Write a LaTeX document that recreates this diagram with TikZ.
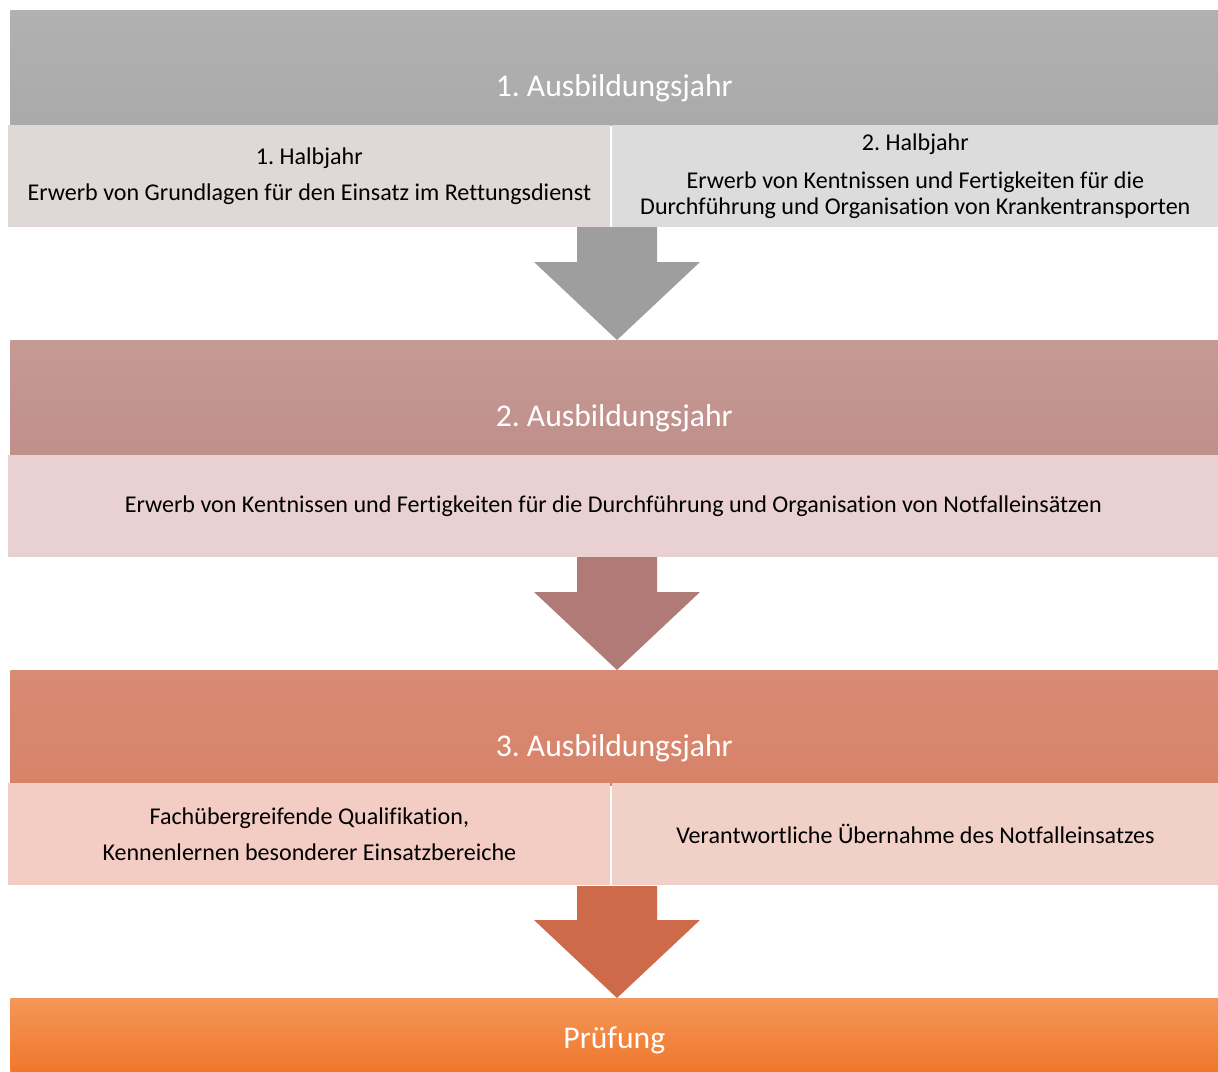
\documentclass[tikz,border=0pt]{standalone}
\usepackage{fontspec}
\setmainfont[Ligatures=CommonOff]{Carlito}
\usetikzlibrary{calc}
\frenchspacing

\definecolor{jahrgrau}{HTML}{AAAAAA}
\definecolor{halbA}{HTML}{E0D7D7}
\definecolor{halbB}{HTML}{DCDCDC}
\definecolor{pfeilgrau}{HTML}{9E9E9E}
\definecolor{jahrrosa}{HTML}{C0908B}
\definecolor{inhaltrosa}{HTML}{E8D1D0}
\definecolor{pfeilrosa}{HTML}{B07A76}
\definecolor{jahrlachs}{HTML}{D7836A}
\definecolor{inhaltA}{HTML}{F3CDC3}
\definecolor{inhaltB}{HTML}{F0D0C7}
\definecolor{pfeillachs}{HTML}{CC6A4A}
\definecolor{pruefung}{HTML}{F07D2E}

% fat arrow from top centre #1 to tip #2
\newcommand{\fatarrow}[3]{%
  \fill[#3] ($(#1)+(-40,0)$) -- ($(#1)+(40,0)$) -- ($(#2)+(40,-78)$) -- ($(#2)+(83,-78)$)
    -- (#2) -- ($(#2)+(-83,-78)$) -- ($(#2)+(-40,-78)$) -- cycle;}

\tikzset{
  yearbox/.style={anchor=north west, inner sep=0pt, minimum width=1208*0.02cm, minimum height=115*0.02cm},
  yeartext/.style={text=white, font=\fontsize{18}{22}\selectfont, yshift=-20*0.02cm},
  halfbox/.style={anchor=north west, inner sep=0pt, align=center, font=\fontsize{13.7}{14.7}\selectfont,
    minimum height=102*0.02cm},
}

\begin{document}
\begin{tikzpicture}[x=0.02cm, y=-0.02cm]
  \useasboundingbox (0,0) rectangle (1218,1072);
  % 1. Ausbildungsjahr
  \node[yearbox, top color=jahrgrau!92!white, bottom color=jahrgrau,
    label={[yeartext]center:1. Ausbildungsjahr}] (j1) at (10,10) {};
  \node[halfbox, fill=halbA, minimum width=602*0.02cm] (h1) at (8,125)
    {1. Halbjahr\\[5.7pt] Erwerb von Grundlagen für den Einsatz im Rettungsdienst};
  \node[halfbox, fill=halbB, minimum width=606*0.02cm] (h2) at (612,125)
    {2. Halbjahr\\[6.8pt] Erwerb von Kentnissen und Fertigkeiten für die\\ Durchführung und Organisation von Krankentransporten};
  % 2. Ausbildungsjahr
  \node[yearbox, top color=jahrrosa!92!white, bottom color=jahrrosa,
    label={[yeartext]center:2. Ausbildungsjahr}] (j2) at (10,340) {};
  \node[halfbox, fill=inhaltrosa, minimum width=1210*0.02cm] (i2) at (8,455)
    {Erwerb von Kentnissen und Fertigkeiten für die Durchführung und Organisation von Notfalleinsätzen};
  % 3. Ausbildungsjahr
  \node[yearbox, top color=jahrlachs!94!white, bottom color=jahrlachs,
    label={[yeartext]center:3. Ausbildungsjahr}] (j3) at (10,670) {};
  \node[halfbox, fill=inhaltA, minimum width=602*0.02cm] (i3a) at (8,783)
    {Fachübergreifende Qualifikation,\\[6.2pt] Kennenlernen besonderer Einsatzbereiche};
  \node[halfbox, fill=inhaltB, minimum width=606*0.02cm] (i3b) at (612,783)
    {Verantwortliche Übernahme des Notfalleinsatzes};
  % Pruefung
  \node[anchor=north west, inner sep=0pt, minimum width=1208*0.02cm, minimum height=74*0.02cm,
    top color=pruefung!80!white, bottom color=pruefung!95!red,
    label={[text=white, font=\fontsize{18}{22}\selectfont, yshift=-5*0.02cm]center:Prüfung}] (pr) at (10,998) {};
  % arrows
  \coordinate (a1) at (617,227);
  \coordinate (a2) at (617,557);
  \coordinate (a3) at (617,886);
  \fatarrow{a1}{j2.north -| a1}{pfeilgrau}
  \fatarrow{a2}{j3.north -| a2}{pfeilrosa}
  \fatarrow{a3}{pr.north -| a3}{pfeillachs}
\end{tikzpicture}
\end{document}
